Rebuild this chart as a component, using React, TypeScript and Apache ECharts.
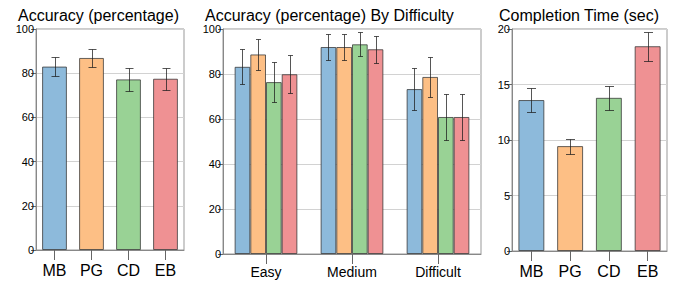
import React, { useEffect, useRef } from "react";
import * as echarts from "echarts";

const methods = ["MB", "PG", "CD", "EB"];
const colors = ["#8DBADB", "#FDBF85", "#99D295", "#EF9193"];

const accuracy = [83.0, 86.9, 77.2, 77.5];
const accuracyErr = [4.4, 4.0, 5.1, 5.0];

const difficulties = ["Easy", "Medium", "Difficult"];
const accMB = [83.2, 92.0, 73.3];
const accPG = [88.7, 92.0, 78.7];
const accCD = [76.4, 93.2, 60.9];
const accEB = [79.9, 91.0, 60.9];
const errMB = [7.8, 5.8, 9.3];
const errPG = [6.7, 5.7, 8.7];
const errCD = [8.9, 5.3, 10.4];
const errEB = [8.5, 5.9, 10.4];

const time = [13.6, 9.45, 13.8, 18.45];
const timeErr = [1.05, 0.68, 1.07, 1.3];

const titles = ["Accuracy (percentage)", "Accuracy (percentage) By Difficulty", "Completion Time (sec)"];

const FONT = "Liberation Sans, Arial, sans-serif";
const BORDER = "rgba(50,50,50,0.75)";
const ERR = "rgba(30,30,30,0.75)";
const GAP2 = 0.27;

function errRender(cap: number, n: number, gap: number) {
  return (params: any, api: any) => {
    const cat = api.value(0);
    const lo = api.value(1);
    const hi = api.value(2);
    const si = api.value(3);
    const band = api.size([1, 0])[0];
    let off = 0;
    if (n > 1) {
      const gw = band * (1 - gap);
      const bw = gw / n;
      off = -gw / 2 + bw * (si + 0.5);
    }
    const pt = api.coord([cat, hi]);
    const pb = api.coord([cat, lo]);
    const x = Math.round(pt[0] + off) + 0.5;
    const yt = Math.round(pt[1]) + 0.5;
    const yb = Math.round(pb[1]) + 0.5;
    const st = { stroke: ERR, lineWidth: 1 };
    return {
      type: "group",
      children: [
        { type: "line", shape: { x1: x, y1: yt, x2: x, y2: yb }, style: st },
        { type: "line", shape: { x1: x - cap / 2, y1: yt, x2: x + cap / 2, y2: yt }, style: st },
        { type: "line", shape: { x1: x - cap / 2, y1: yb, x2: x + cap / 2, y2: yb }, style: st },
      ],
    };
  };
}

function yAxis(gi: number, max: number, interval: number) {
  return {
    type: "value",
    gridIndex: gi,
    min: 0,
    max,
    interval,
    axisLine: { show: true, lineStyle: { color: "#888" } },
    axisTick: { show: true, length: 5, lineStyle: { color: "#666" } },
    axisLabel: { color: "#000", fontSize: 11, fontFamily: FONT, margin: 2 },
    splitLine: { show: true, lineStyle: { color: "#d2d2d2" } },
  };
}

function xAxis(gi: number, data: string[], fs: number, margin: number) {
  return {
    type: "category",
    gridIndex: gi,
    data,
    axisLine: { show: true, lineStyle: { color: "#888" } },
    axisTick: { show: true, alignWithLabel: true, length: 10, lineStyle: { color: "#666" } },
    axisLabel: { color: "#000", fontSize: fs, fontFamily: FONT, margin },
  };
}

export default function App() {
  const ref = useRef<HTMLDivElement>(null);
  useEffect(() => {
    if (!ref.current) return;
    const chart = echarts.init(ref.current, null, { renderer: "svg" });
    const diffVals = [accMB, accPG, accCD, accEB];
    const diffErrs = [errMB, errPG, errCD, errEB];

    const diffErrData: number[][] = [];
    diffVals.forEach((vals, si) => {
      vals.forEach((v, ci) => {
        diffErrData.push([ci, v - diffErrs[si][ci], v + diffErrs[si][ci], si]);
      });
    });

    const gridStyle = { show: true, borderColor: "#999", borderWidth: 1, backgroundColor: "#fff", containLabel: false };

    const option: any = {
      animation: false,
      backgroundColor: "#fff",
      title: [
        { text: titles[0], left: 13, top: 2 },
        { text: titles[1], left: 200, top: 2 },
        { text: titles[2], left: 494, top: 2 },
      ].map((t) => ({ ...t, textStyle: { fontSize: 16, fontWeight: "normal", color: "#000", fontFamily: FONT } })),
      grid: [
        { ...gridStyle, left: 36, top: 29, width: 148, height: 221 },
        { ...gridStyle, left: 223, top: 29, width: 258, height: 225 },
        { ...gridStyle, left: 512, top: 29, width: 155, height: 222 },
      ],
      xAxis: [xAxis(0, methods, 16, 12), xAxis(1, difficulties, 14, 11), xAxis(2, methods, 16, 12)],
      yAxis: [yAxis(0, 100, 20), yAxis(1, 100, 20), yAxis(2, 20, 5)],
      series: [
        {
          type: "bar",
          xAxisIndex: 0,
          yAxisIndex: 0,
          barCategoryGap: "33%",
          data: accuracy.map((v, i) => ({ value: v, itemStyle: { color: colors[i] } })),
          itemStyle: { borderColor: BORDER, borderWidth: 1 },
        },
        {
          type: "custom",
          xAxisIndex: 0,
          yAxisIndex: 0,
          z: 5,
          renderItem: errRender(8, 1, 0),
          encode: { x: 0, y: [1, 2] },
          data: accuracy.map((v, i) => [i, v - accuracyErr[i], v + accuracyErr[i], 0]),
        },
        ...diffVals.map((vals, si) => ({
          type: "bar",
          name: methods[si],
          xAxisIndex: 1,
          yAxisIndex: 1,
          barGap: "0%",
          barCategoryGap: GAP2 * 100 + "%",
          data: vals,
          itemStyle: { color: colors[si], borderColor: BORDER, borderWidth: 1 },
        })),
        {
          type: "custom",
          xAxisIndex: 1,
          yAxisIndex: 1,
          z: 5,
          renderItem: errRender(5, 4, GAP2),
          encode: { x: 0, y: [1, 2] },
          data: diffErrData,
        },
        {
          type: "bar",
          xAxisIndex: 2,
          yAxisIndex: 2,
          barCategoryGap: "33%",
          data: time.map((v, i) => ({ value: v, itemStyle: { color: colors[i] } })),
          itemStyle: { borderColor: BORDER, borderWidth: 1 },
        },
        {
          type: "custom",
          xAxisIndex: 2,
          yAxisIndex: 2,
          z: 5,
          renderItem: errRender(9, 1, 0),
          encode: { x: 0, y: [1, 2] },
          data: time.map((v, i) => [i, v - timeErr[i], v + timeErr[i], 0]),
        },
      ],
    };
    chart.setOption(option);
    return () => chart.dispose();
  }, []);
  return (
    <div
      ref={ref}
      style={{ position: "absolute", left: 0, top: 0, width: 676, height: 283, background: "#fff" }}
    />
  );
}
